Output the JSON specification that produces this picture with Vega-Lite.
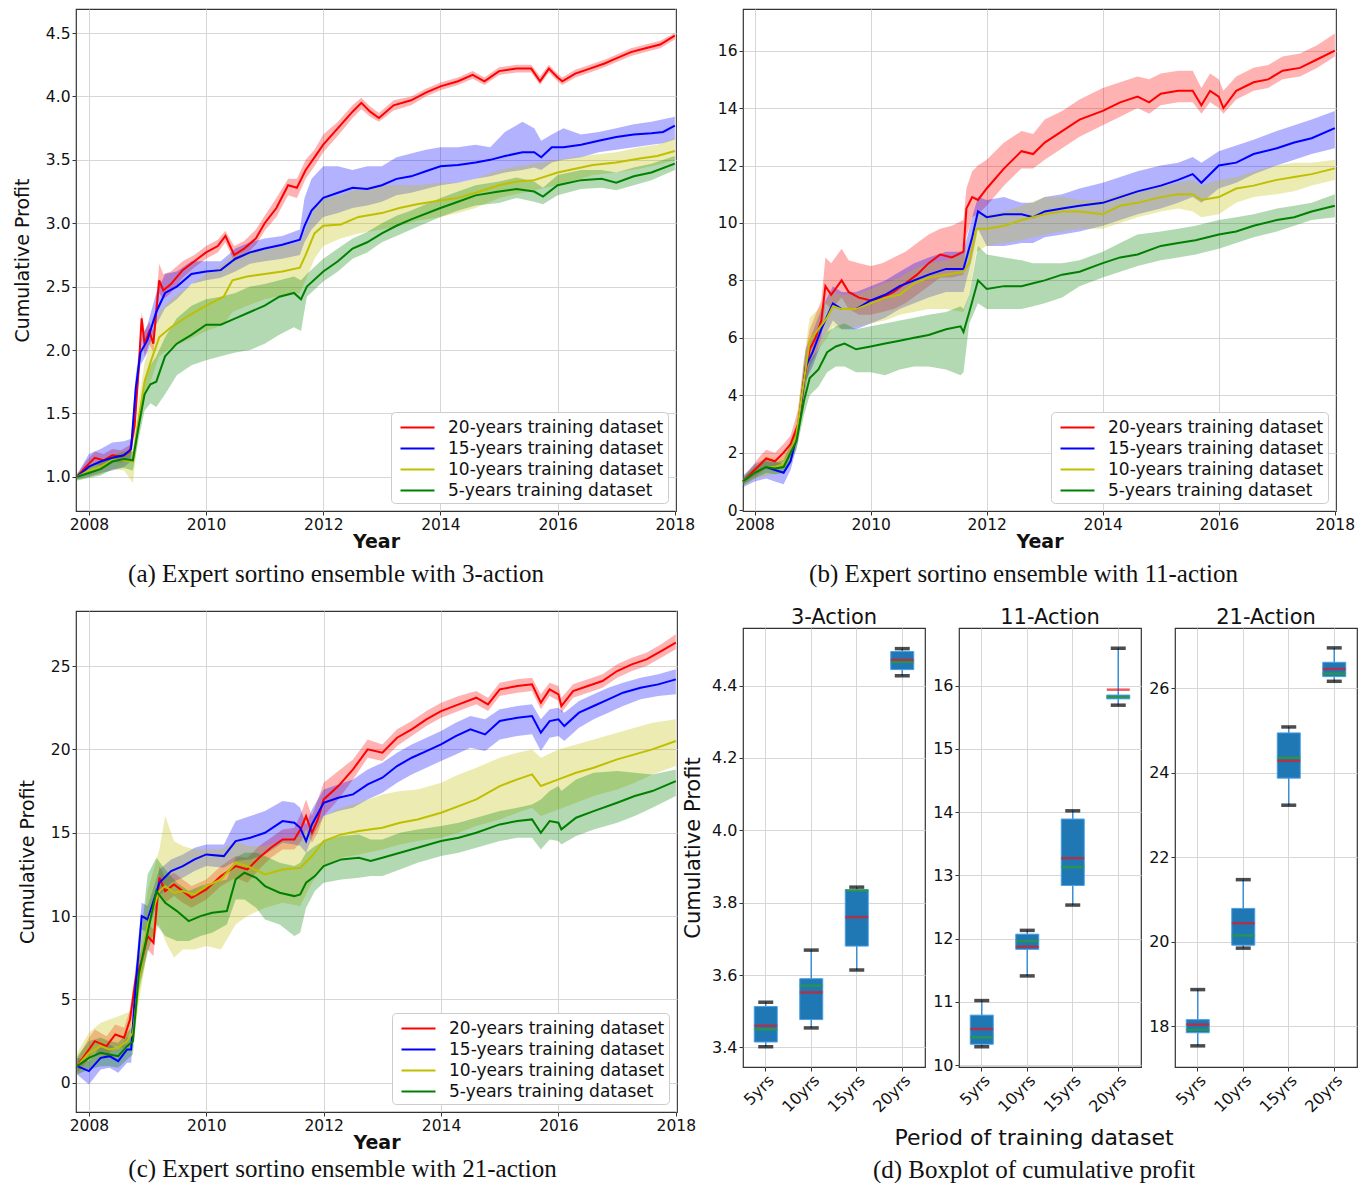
{
"$schema": "https://vega.github.io/schema/vega-lite/v6.json",
"padding": {"left": 12, "top": 8, "right": 4, "bottom": 0},
"background": "white",
"config": {
 "font": "DejaVu Sans",
 "view": {"stroke": "#333333", "strokeWidth": 1.2},
 "axis": {"grid": true, "gridColor": "#d6d6d6", "gridWidth": 1, "domain": false, "ticks": true, "tickColor": "#333333", "tickSize": 4, "labelPadding": 2, "labelFont": "DejaVu Sans", "labelFontSize": 15.5, "labelColor": "#111111", "titleFont": "DejaVu Sans", "titleFontSize": 19, "titleFontWeight": "normal", "titleColor": "#111111"},
 "legend": {"orient": "bottom-right", "offset": 8, "labelFont": "DejaVu Sans", "labelFontSize": 17, "labelLimit": 400, "labelColor": "#111111", "symbolType": "M-1.7,0H1.7", "symbolSize": 400, "symbolStrokeWidth": 2.2, "symbolOffset": 11, "labelOffset": 19, "rowPadding": 1, "padding": 4, "fillColor": "white", "strokeColor": "#cccccc", "cornerRadius": 4},
 "title": {"font": "Liberation Serif", "fontSize": 25, "fontWeight": "normal", "color": "#111111"}
},
"datasets": {
"L": [
{"p":"a","s":"20","t":2007.8,"y":1.0,"lo":0.98,"hi":1.02},{"p":"a","s":"20","t":2007.95,"y":1.08,"lo":1.04,"hi":1.12},{"p":"a","s":"20","t":2008.1,"y":1.15,"lo":1.1,"hi":1.2},{"p":"a","s":"20","t":2008.25,"y":1.13,"lo":1.08,"hi":1.18},{"p":"a","s":"20","t":2008.4,"y":1.17,"lo":1.12,"hi":1.22},{"p":"a","s":"20","t":2008.55,"y":1.16,"lo":1.11,"hi":1.21},{"p":"a","s":"20","t":2008.7,"y":1.2,"lo":1.15,"hi":1.25},{"p":"a","s":"20","t":2008.78,"y":1.4,"lo":1.33,"hi":1.47},{"p":"a","s":"20","t":2008.85,"y":1.85,"lo":1.75,"hi":1.95},{"p":"a","s":"20","t":2008.9,"y":2.25,"lo":2.15,"hi":2.3},{"p":"a","s":"20","t":2008.95,"y":2.05,"lo":1.95,"hi":2.15},{"p":"a","s":"20","t":2009.03,"y":2.15,"lo":2.05,"hi":2.22},{"p":"a","s":"20","t":2009.1,"y":2.05,"lo":1.98,"hi":2.15},{"p":"a","s":"20","t":2009.2,"y":2.55,"lo":2.45,"hi":2.68},{"p":"a","s":"20","t":2009.27,"y":2.47,"lo":2.4,"hi":2.6},{"p":"a","s":"20","t":2009.4,"y":2.52,"lo":2.45,"hi":2.62},{"p":"a","s":"20","t":2009.6,"y":2.63,"lo":2.57,"hi":2.7},{"p":"a","s":"20","t":2009.8,"y":2.7,"lo":2.65,"hi":2.75},{"p":"a","s":"20","t":2010.0,"y":2.77,"lo":2.72,"hi":2.82},{"p":"a","s":"20","t":2010.2,"y":2.82,"lo":2.77,"hi":2.87},{"p":"a","s":"20","t":2010.33,"y":2.9,"lo":2.85,"hi":2.94},{"p":"a","s":"20","t":2010.48,"y":2.75,"lo":2.7,"hi":2.82},{"p":"a","s":"20","t":2010.65,"y":2.8,"lo":2.74,"hi":2.86},{"p":"a","s":"20","t":2010.85,"y":2.88,"lo":2.83,"hi":2.95},{"p":"a","s":"20","t":2011.0,"y":3.0,"lo":2.94,"hi":3.06},{"p":"a","s":"20","t":2011.2,"y":3.12,"lo":3.05,"hi":3.2},{"p":"a","s":"20","t":2011.4,"y":3.3,"lo":3.22,"hi":3.35},{"p":"a","s":"20","t":2011.55,"y":3.28,"lo":3.2,"hi":3.35},{"p":"a","s":"20","t":2011.7,"y":3.42,"lo":3.35,"hi":3.5},{"p":"a","s":"20","t":2011.85,"y":3.52,"lo":3.45,"hi":3.58},{"p":"a","s":"20","t":2012.0,"y":3.62,"lo":3.56,"hi":3.7},{"p":"a","s":"20","t":2012.25,"y":3.75,"lo":3.69,"hi":3.8},{"p":"a","s":"20","t":2012.5,"y":3.88,"lo":3.83,"hi":3.93},{"p":"a","s":"20","t":2012.65,"y":3.95,"lo":3.9,"hi":3.99},{"p":"a","s":"20","t":2012.8,"y":3.88,"lo":3.84,"hi":3.92},{"p":"a","s":"20","t":2012.95,"y":3.83,"lo":3.8,"hi":3.87},{"p":"a","s":"20","t":2013.2,"y":3.93,"lo":3.89,"hi":3.97},{"p":"a","s":"20","t":2013.5,"y":3.97,"lo":3.93,"hi":4.0},{"p":"a","s":"20","t":2013.75,"y":4.03,"lo":4.0,"hi":4.06},{"p":"a","s":"20","t":2014.0,"y":4.08,"lo":4.05,"hi":4.11},{"p":"a","s":"20","t":2014.3,"y":4.12,"lo":4.09,"hi":4.15},{"p":"a","s":"20","t":2014.55,"y":4.17,"lo":4.14,"hi":4.2},{"p":"a","s":"20","t":2014.75,"y":4.12,"lo":4.09,"hi":4.15},{"p":"a","s":"20","t":2015.0,"y":4.2,"lo":4.17,"hi":4.23},{"p":"a","s":"20","t":2015.3,"y":4.22,"lo":4.19,"hi":4.25},{"p":"a","s":"20","t":2015.55,"y":4.22,"lo":4.19,"hi":4.25},{"p":"a","s":"20","t":2015.7,"y":4.12,"lo":4.09,"hi":4.16},{"p":"a","s":"20","t":2015.85,"y":4.22,"lo":4.19,"hi":4.25},{"p":"a","s":"20","t":2016.0,"y":4.15,"lo":4.12,"hi":4.18},{"p":"a","s":"20","t":2016.08,"y":4.12,"lo":4.09,"hi":4.15},{"p":"a","s":"20","t":2016.3,"y":4.18,"lo":4.15,"hi":4.21},{"p":"a","s":"20","t":2016.55,"y":4.22,"lo":4.19,"hi":4.25},{"p":"a","s":"20","t":2016.8,"y":4.26,"lo":4.23,"hi":4.29},{"p":"a","s":"20","t":2017.0,"y":4.3,"lo":4.27,"hi":4.33},{"p":"a","s":"20","t":2017.25,"y":4.35,"lo":4.32,"hi":4.38},{"p":"a","s":"20","t":2017.5,"y":4.38,"lo":4.35,"hi":4.41},{"p":"a","s":"20","t":2017.75,"y":4.41,"lo":4.38,"hi":4.44},{"p":"a","s":"20","t":2018.0,"y":4.48,"lo":4.45,"hi":4.5},
{"p":"a","s":"15","t":2007.8,"y":1.0,"lo":0.98,"hi":1.02},{"p":"a","s":"15","t":2008.0,"y":1.08,"lo":1.0,"hi":1.18},{"p":"a","s":"15","t":2008.2,"y":1.12,"lo":1.03,"hi":1.22},{"p":"a","s":"15","t":2008.4,"y":1.15,"lo":1.05,"hi":1.27},{"p":"a","s":"15","t":2008.6,"y":1.17,"lo":1.08,"hi":1.28},{"p":"a","s":"15","t":2008.72,"y":1.22,"lo":1.12,"hi":1.3},{"p":"a","s":"15","t":2008.8,"y":1.7,"lo":1.6,"hi":1.8},{"p":"a","s":"15","t":2008.88,"y":1.98,"lo":1.88,"hi":2.08},{"p":"a","s":"15","t":2009.0,"y":2.08,"lo":1.98,"hi":2.2},{"p":"a","s":"15","t":2009.15,"y":2.3,"lo":2.2,"hi":2.45},{"p":"a","s":"15","t":2009.3,"y":2.45,"lo":2.33,"hi":2.6},{"p":"a","s":"15","t":2009.5,"y":2.5,"lo":2.4,"hi":2.62},{"p":"a","s":"15","t":2009.75,"y":2.6,"lo":2.52,"hi":2.7},{"p":"a","s":"15","t":2010.0,"y":2.62,"lo":2.55,"hi":2.7},{"p":"a","s":"15","t":2010.25,"y":2.63,"lo":2.57,"hi":2.7},{"p":"a","s":"15","t":2010.5,"y":2.72,"lo":2.62,"hi":2.8},{"p":"a","s":"15","t":2010.75,"y":2.77,"lo":2.68,"hi":2.85},{"p":"a","s":"15","t":2011.0,"y":2.8,"lo":2.7,"hi":2.88},{"p":"a","s":"15","t":2011.3,"y":2.83,"lo":2.72,"hi":2.9},{"p":"a","s":"15","t":2011.6,"y":2.87,"lo":2.75,"hi":2.95},{"p":"a","s":"15","t":2011.68,"y":2.98,"lo":2.85,"hi":3.2},{"p":"a","s":"15","t":2011.8,"y":3.1,"lo":2.95,"hi":3.35},{"p":"a","s":"15","t":2012.0,"y":3.2,"lo":3.05,"hi":3.45},{"p":"a","s":"15","t":2012.25,"y":3.24,"lo":3.08,"hi":3.45},{"p":"a","s":"15","t":2012.5,"y":3.28,"lo":3.12,"hi":3.42},{"p":"a","s":"15","t":2012.75,"y":3.27,"lo":3.14,"hi":3.45},{"p":"a","s":"15","t":2013.0,"y":3.3,"lo":3.17,"hi":3.45},{"p":"a","s":"15","t":2013.25,"y":3.35,"lo":3.22,"hi":3.52},{"p":"a","s":"15","t":2013.5,"y":3.37,"lo":3.24,"hi":3.55},{"p":"a","s":"15","t":2013.75,"y":3.41,"lo":3.27,"hi":3.58},{"p":"a","s":"15","t":2014.0,"y":3.45,"lo":3.3,"hi":3.6},{"p":"a","s":"15","t":2014.3,"y":3.46,"lo":3.32,"hi":3.6},{"p":"a","s":"15","t":2014.6,"y":3.48,"lo":3.35,"hi":3.62},{"p":"a","s":"15","t":2014.85,"y":3.5,"lo":3.37,"hi":3.6},{"p":"a","s":"15","t":2015.1,"y":3.53,"lo":3.4,"hi":3.72},{"p":"a","s":"15","t":2015.4,"y":3.56,"lo":3.42,"hi":3.8},{"p":"a","s":"15","t":2015.6,"y":3.56,"lo":3.44,"hi":3.75},{"p":"a","s":"15","t":2015.72,"y":3.52,"lo":3.42,"hi":3.65},{"p":"a","s":"15","t":2015.9,"y":3.6,"lo":3.48,"hi":3.7},{"p":"a","s":"15","t":2016.1,"y":3.6,"lo":3.5,"hi":3.75},{"p":"a","s":"15","t":2016.4,"y":3.62,"lo":3.52,"hi":3.7},{"p":"a","s":"15","t":2016.7,"y":3.65,"lo":3.56,"hi":3.72},{"p":"a","s":"15","t":2017.0,"y":3.68,"lo":3.58,"hi":3.75},{"p":"a","s":"15","t":2017.3,"y":3.7,"lo":3.6,"hi":3.78},{"p":"a","s":"15","t":2017.6,"y":3.71,"lo":3.62,"hi":3.8},{"p":"a","s":"15","t":2017.8,"y":3.72,"lo":3.63,"hi":3.82},{"p":"a","s":"15","t":2018.0,"y":3.77,"lo":3.66,"hi":3.84},
{"p":"a","s":"10","t":2007.8,"y":1.0,"lo":0.97,"hi":1.03},{"p":"a","s":"10","t":2008.0,"y":1.05,"lo":1.0,"hi":1.1},{"p":"a","s":"10","t":2008.2,"y":1.08,"lo":1.02,"hi":1.14},{"p":"a","s":"10","t":2008.4,"y":1.13,"lo":1.06,"hi":1.18},{"p":"a","s":"10","t":2008.6,"y":1.13,"lo":1.05,"hi":1.2},{"p":"a","s":"10","t":2008.75,"y":1.12,"lo":0.95,"hi":1.22},{"p":"a","s":"10","t":2008.85,"y":1.45,"lo":1.35,"hi":1.6},{"p":"a","s":"10","t":2008.95,"y":1.75,"lo":1.62,"hi":1.9},{"p":"a","s":"10","t":2009.05,"y":1.9,"lo":1.75,"hi":2.05},{"p":"a","s":"10","t":2009.2,"y":2.1,"lo":1.95,"hi":2.3},{"p":"a","s":"10","t":2009.4,"y":2.18,"lo":2.02,"hi":2.4},{"p":"a","s":"10","t":2009.7,"y":2.27,"lo":2.08,"hi":2.5},{"p":"a","s":"10","t":2010.0,"y":2.35,"lo":2.15,"hi":2.6},{"p":"a","s":"10","t":2010.3,"y":2.42,"lo":2.2,"hi":2.68},{"p":"a","s":"10","t":2010.45,"y":2.55,"lo":2.3,"hi":2.75},{"p":"a","s":"10","t":2010.7,"y":2.58,"lo":2.35,"hi":2.78},{"p":"a","s":"10","t":2011.0,"y":2.6,"lo":2.4,"hi":2.8},{"p":"a","s":"10","t":2011.3,"y":2.62,"lo":2.43,"hi":2.82},{"p":"a","s":"10","t":2011.6,"y":2.65,"lo":2.45,"hi":2.85},{"p":"a","s":"10","t":2011.7,"y":2.75,"lo":2.55,"hi":2.95},{"p":"a","s":"10","t":2011.85,"y":2.92,"lo":2.72,"hi":3.12},{"p":"a","s":"10","t":2012.0,"y":2.98,"lo":2.82,"hi":3.2},{"p":"a","s":"10","t":2012.3,"y":2.99,"lo":2.88,"hi":3.22},{"p":"a","s":"10","t":2012.6,"y":3.05,"lo":2.92,"hi":3.28},{"p":"a","s":"10","t":2013.0,"y":3.08,"lo":2.95,"hi":3.3},{"p":"a","s":"10","t":2013.3,"y":3.12,"lo":2.98,"hi":3.3},{"p":"a","s":"10","t":2013.6,"y":3.15,"lo":3.02,"hi":3.3},{"p":"a","s":"10","t":2014.0,"y":3.18,"lo":3.05,"hi":3.32},{"p":"a","s":"10","t":2014.3,"y":3.2,"lo":3.08,"hi":3.32},{"p":"a","s":"10","t":2014.6,"y":3.24,"lo":3.12,"hi":3.35},{"p":"a","s":"10","t":2015.0,"y":3.3,"lo":3.2,"hi":3.42},{"p":"a","s":"10","t":2015.3,"y":3.33,"lo":3.23,"hi":3.45},{"p":"a","s":"10","t":2015.6,"y":3.34,"lo":3.26,"hi":3.47},{"p":"a","s":"10","t":2016.0,"y":3.4,"lo":3.3,"hi":3.5},{"p":"a","s":"10","t":2016.3,"y":3.43,"lo":3.34,"hi":3.52},{"p":"a","s":"10","t":2016.6,"y":3.46,"lo":3.38,"hi":3.54},{"p":"a","s":"10","t":2017.0,"y":3.48,"lo":3.4,"hi":3.56},{"p":"a","s":"10","t":2017.4,"y":3.51,"lo":3.43,"hi":3.6},{"p":"a","s":"10","t":2017.7,"y":3.53,"lo":3.46,"hi":3.62},{"p":"a","s":"10","t":2018.0,"y":3.57,"lo":3.5,"hi":3.67},
{"p":"a","s":"5","t":2007.8,"y":1.0,"lo":0.97,"hi":1.03},{"p":"a","s":"5","t":2008.0,"y":1.03,"lo":0.99,"hi":1.07},{"p":"a","s":"5","t":2008.2,"y":1.06,"lo":1.01,"hi":1.12},{"p":"a","s":"5","t":2008.4,"y":1.12,"lo":1.06,"hi":1.17},{"p":"a","s":"5","t":2008.6,"y":1.14,"lo":1.07,"hi":1.2},{"p":"a","s":"5","t":2008.75,"y":1.13,"lo":1.05,"hi":1.2},{"p":"a","s":"5","t":2008.85,"y":1.4,"lo":1.3,"hi":1.5},{"p":"a","s":"5","t":2008.95,"y":1.65,"lo":1.52,"hi":1.78},{"p":"a","s":"5","t":2009.05,"y":1.73,"lo":1.58,"hi":1.88},{"p":"a","s":"5","t":2009.15,"y":1.75,"lo":1.55,"hi":1.95},{"p":"a","s":"5","t":2009.3,"y":1.95,"lo":1.65,"hi":2.1},{"p":"a","s":"5","t":2009.5,"y":2.05,"lo":1.8,"hi":2.25},{"p":"a","s":"5","t":2009.75,"y":2.12,"lo":1.88,"hi":2.35},{"p":"a","s":"5","t":2010.0,"y":2.2,"lo":1.92,"hi":2.4},{"p":"a","s":"5","t":2010.25,"y":2.2,"lo":1.95,"hi":2.42},{"p":"a","s":"5","t":2010.5,"y":2.25,"lo":1.98,"hi":2.45},{"p":"a","s":"5","t":2010.75,"y":2.3,"lo":2.0,"hi":2.5},{"p":"a","s":"5","t":2011.0,"y":2.35,"lo":2.05,"hi":2.52},{"p":"a","s":"5","t":2011.25,"y":2.42,"lo":2.12,"hi":2.55},{"p":"a","s":"5","t":2011.5,"y":2.45,"lo":2.18,"hi":2.58},{"p":"a","s":"5","t":2011.62,"y":2.4,"lo":2.15,"hi":2.55},{"p":"a","s":"5","t":2011.72,"y":2.5,"lo":2.42,"hi":2.6},{"p":"a","s":"5","t":2012.0,"y":2.62,"lo":2.54,"hi":2.72},{"p":"a","s":"5","t":2012.25,"y":2.7,"lo":2.62,"hi":2.8},{"p":"a","s":"5","t":2012.5,"y":2.8,"lo":2.72,"hi":2.88},{"p":"a","s":"5","t":2012.75,"y":2.85,"lo":2.77,"hi":2.93},{"p":"a","s":"5","t":2013.0,"y":2.92,"lo":2.85,"hi":3.0},{"p":"a","s":"5","t":2013.25,"y":2.98,"lo":2.9,"hi":3.06},{"p":"a","s":"5","t":2013.5,"y":3.03,"lo":2.95,"hi":3.1},{"p":"a","s":"5","t":2014.0,"y":3.12,"lo":3.05,"hi":3.2},{"p":"a","s":"5","t":2014.3,"y":3.17,"lo":3.1,"hi":3.25},{"p":"a","s":"5","t":2014.6,"y":3.22,"lo":3.14,"hi":3.3},{"p":"a","s":"5","t":2015.0,"y":3.25,"lo":3.16,"hi":3.33},{"p":"a","s":"5","t":2015.3,"y":3.27,"lo":3.2,"hi":3.36},{"p":"a","s":"5","t":2015.6,"y":3.25,"lo":3.17,"hi":3.33},{"p":"a","s":"5","t":2015.75,"y":3.21,"lo":3.15,"hi":3.28},{"p":"a","s":"5","t":2016.0,"y":3.3,"lo":3.22,"hi":3.38},{"p":"a","s":"5","t":2016.4,"y":3.34,"lo":3.27,"hi":3.42},{"p":"a","s":"5","t":2016.75,"y":3.35,"lo":3.28,"hi":3.42},{"p":"a","s":"5","t":2017.0,"y":3.32,"lo":3.26,"hi":3.4},{"p":"a","s":"5","t":2017.3,"y":3.37,"lo":3.3,"hi":3.44},{"p":"a","s":"5","t":2017.6,"y":3.4,"lo":3.34,"hi":3.47},{"p":"a","s":"5","t":2018.0,"y":3.47,"lo":3.42,"hi":3.53},
{"p":"b","s":"20","t":2007.8,"y":1.0,"lo":0.9,"hi":1.1},{"p":"b","s":"20","t":2007.95,"y":1.3,"lo":1.1,"hi":1.5},{"p":"b","s":"20","t":2008.1,"y":1.6,"lo":1.3,"hi":1.9},{"p":"b","s":"20","t":2008.2,"y":1.8,"lo":1.5,"hi":2.1},{"p":"b","s":"20","t":2008.35,"y":1.7,"lo":1.45,"hi":2.0},{"p":"b","s":"20","t":2008.5,"y":2.0,"lo":1.7,"hi":2.3},{"p":"b","s":"20","t":2008.62,"y":2.3,"lo":2.0,"hi":2.6},{"p":"b","s":"20","t":2008.75,"y":3.0,"lo":2.6,"hi":3.5},{"p":"b","s":"20","t":2008.85,"y":4.5,"lo":4.0,"hi":5.2},{"p":"b","s":"20","t":2008.95,"y":5.6,"lo":5.0,"hi":6.3},{"p":"b","s":"20","t":2009.05,"y":6.0,"lo":5.4,"hi":6.8},{"p":"b","s":"20","t":2009.15,"y":6.6,"lo":6.0,"hi":7.3},{"p":"b","s":"20","t":2009.22,"y":7.8,"lo":7.2,"hi":8.8},{"p":"b","s":"20","t":2009.32,"y":7.5,"lo":7.0,"hi":8.6},{"p":"b","s":"20","t":2009.5,"y":8.0,"lo":7.4,"hi":9.1},{"p":"b","s":"20","t":2009.62,"y":7.6,"lo":7.0,"hi":8.7},{"p":"b","s":"20","t":2009.8,"y":7.4,"lo":6.8,"hi":8.6},{"p":"b","s":"20","t":2010.0,"y":7.3,"lo":6.8,"hi":8.5},{"p":"b","s":"20","t":2010.2,"y":7.4,"lo":6.9,"hi":8.6},{"p":"b","s":"20","t":2010.4,"y":7.6,"lo":7.0,"hi":8.8},{"p":"b","s":"20","t":2010.6,"y":7.9,"lo":7.2,"hi":9.0},{"p":"b","s":"20","t":2010.8,"y":8.2,"lo":7.5,"hi":9.3},{"p":"b","s":"20","t":2011.0,"y":8.6,"lo":7.8,"hi":9.6},{"p":"b","s":"20","t":2011.2,"y":8.9,"lo":8.1,"hi":9.8},{"p":"b","s":"20","t":2011.4,"y":8.8,"lo":8.1,"hi":9.9},{"p":"b","s":"20","t":2011.6,"y":9.0,"lo":8.2,"hi":10.1},{"p":"b","s":"20","t":2011.65,"y":10.5,"lo":9.5,"hi":11.2},{"p":"b","s":"20","t":2011.75,"y":10.9,"lo":10.2,"hi":11.8},{"p":"b","s":"20","t":2011.85,"y":10.8,"lo":10.3,"hi":12.0},{"p":"b","s":"20","t":2012.0,"y":11.2,"lo":10.6,"hi":12.2},{"p":"b","s":"20","t":2012.3,"y":11.9,"lo":11.3,"hi":12.8},{"p":"b","s":"20","t":2012.6,"y":12.5,"lo":11.9,"hi":13.2},{"p":"b","s":"20","t":2012.8,"y":12.4,"lo":11.9,"hi":13.1},{"p":"b","s":"20","t":2013.0,"y":12.8,"lo":12.2,"hi":13.6},{"p":"b","s":"20","t":2013.3,"y":13.2,"lo":12.6,"hi":13.9},{"p":"b","s":"20","t":2013.6,"y":13.6,"lo":13.0,"hi":14.3},{"p":"b","s":"20","t":2014.0,"y":13.9,"lo":13.4,"hi":14.7},{"p":"b","s":"20","t":2014.3,"y":14.2,"lo":13.7,"hi":14.9},{"p":"b","s":"20","t":2014.6,"y":14.4,"lo":14.0,"hi":15.1},{"p":"b","s":"20","t":2014.8,"y":14.2,"lo":13.8,"hi":15.0},{"p":"b","s":"20","t":2015.0,"y":14.5,"lo":14.1,"hi":15.2},{"p":"b","s":"20","t":2015.3,"y":14.6,"lo":14.2,"hi":15.3},{"p":"b","s":"20","t":2015.55,"y":14.6,"lo":14.2,"hi":15.3},{"p":"b","s":"20","t":2015.7,"y":14.1,"lo":13.8,"hi":14.7},{"p":"b","s":"20","t":2015.85,"y":14.6,"lo":14.2,"hi":15.2},{"p":"b","s":"20","t":2016.0,"y":14.4,"lo":14.0,"hi":15.0},{"p":"b","s":"20","t":2016.08,"y":14.0,"lo":13.8,"hi":14.6},{"p":"b","s":"20","t":2016.3,"y":14.6,"lo":14.3,"hi":15.1},{"p":"b","s":"20","t":2016.6,"y":14.9,"lo":14.6,"hi":15.4},{"p":"b","s":"20","t":2016.85,"y":15.0,"lo":14.7,"hi":15.5},{"p":"b","s":"20","t":2017.1,"y":15.3,"lo":15.0,"hi":15.8},{"p":"b","s":"20","t":2017.4,"y":15.4,"lo":15.1,"hi":15.9},{"p":"b","s":"20","t":2017.7,"y":15.7,"lo":15.4,"hi":16.2},{"p":"b","s":"20","t":2018.0,"y":16.0,"lo":15.8,"hi":16.6},
{"p":"b","s":"15","t":2007.8,"y":1.0,"lo":0.8,"hi":1.2},{"p":"b","s":"15","t":2008.0,"y":1.3,"lo":1.0,"hi":1.6},{"p":"b","s":"15","t":2008.2,"y":1.5,"lo":1.1,"hi":1.8},{"p":"b","s":"15","t":2008.35,"y":1.4,"lo":1.0,"hi":1.7},{"p":"b","s":"15","t":2008.5,"y":1.3,"lo":0.9,"hi":1.6},{"p":"b","s":"15","t":2008.62,"y":1.7,"lo":1.4,"hi":2.0},{"p":"b","s":"15","t":2008.75,"y":2.8,"lo":2.4,"hi":3.2},{"p":"b","s":"15","t":2008.88,"y":5.0,"lo":4.5,"hi":5.6},{"p":"b","s":"15","t":2009.0,"y":5.5,"lo":5.0,"hi":6.2},{"p":"b","s":"15","t":2009.15,"y":6.3,"lo":5.8,"hi":7.0},{"p":"b","s":"15","t":2009.35,"y":7.2,"lo":6.6,"hi":7.8},{"p":"b","s":"15","t":2009.5,"y":7.0,"lo":6.3,"hi":7.6},{"p":"b","s":"15","t":2009.75,"y":7.0,"lo":6.3,"hi":7.6},{"p":"b","s":"15","t":2010.0,"y":7.3,"lo":6.5,"hi":7.8},{"p":"b","s":"15","t":2010.25,"y":7.5,"lo":6.7,"hi":8.0},{"p":"b","s":"15","t":2010.5,"y":7.8,"lo":7.0,"hi":8.3},{"p":"b","s":"15","t":2010.75,"y":8.0,"lo":7.2,"hi":8.6},{"p":"b","s":"15","t":2011.0,"y":8.2,"lo":7.4,"hi":8.8},{"p":"b","s":"15","t":2011.3,"y":8.4,"lo":7.6,"hi":9.0},{"p":"b","s":"15","t":2011.6,"y":8.4,"lo":7.6,"hi":9.0},{"p":"b","s":"15","t":2011.75,"y":9.5,"lo":8.8,"hi":10.2},{"p":"b","s":"15","t":2011.85,"y":10.4,"lo":9.8,"hi":10.9},{"p":"b","s":"15","t":2012.0,"y":10.2,"lo":9.2,"hi":10.8},{"p":"b","s":"15","t":2012.3,"y":10.3,"lo":9.2,"hi":10.9},{"p":"b","s":"15","t":2012.6,"y":10.3,"lo":9.3,"hi":10.7},{"p":"b","s":"15","t":2012.8,"y":10.2,"lo":9.3,"hi":10.7},{"p":"b","s":"15","t":2013.0,"y":10.4,"lo":9.5,"hi":10.9},{"p":"b","s":"15","t":2013.3,"y":10.5,"lo":9.6,"hi":11.0},{"p":"b","s":"15","t":2013.6,"y":10.6,"lo":9.7,"hi":11.2},{"p":"b","s":"15","t":2014.0,"y":10.7,"lo":9.9,"hi":11.4},{"p":"b","s":"15","t":2014.3,"y":10.9,"lo":10.1,"hi":11.6},{"p":"b","s":"15","t":2014.6,"y":11.1,"lo":10.3,"hi":11.8},{"p":"b","s":"15","t":2015.0,"y":11.3,"lo":10.5,"hi":12.0},{"p":"b","s":"15","t":2015.3,"y":11.5,"lo":10.7,"hi":12.1},{"p":"b","s":"15","t":2015.55,"y":11.7,"lo":10.9,"hi":12.3},{"p":"b","s":"15","t":2015.7,"y":11.4,"lo":10.7,"hi":12.1},{"p":"b","s":"15","t":2016.0,"y":12.0,"lo":11.2,"hi":12.5},{"p":"b","s":"15","t":2016.3,"y":12.1,"lo":11.4,"hi":12.7},{"p":"b","s":"15","t":2016.6,"y":12.4,"lo":11.7,"hi":12.9},{"p":"b","s":"15","t":2017.0,"y":12.6,"lo":12.0,"hi":13.2},{"p":"b","s":"15","t":2017.3,"y":12.8,"lo":12.2,"hi":13.4},{"p":"b","s":"15","t":2017.6,"y":12.95,"lo":12.4,"hi":13.6},{"p":"b","s":"15","t":2018.0,"y":13.3,"lo":12.6,"hi":13.9},
{"p":"b","s":"10","t":2007.8,"y":1.0,"lo":0.85,"hi":1.15},{"p":"b","s":"10","t":2008.0,"y":1.3,"lo":1.1,"hi":1.55},{"p":"b","s":"10","t":2008.2,"y":1.5,"lo":1.2,"hi":1.9},{"p":"b","s":"10","t":2008.35,"y":1.5,"lo":1.25,"hi":1.8},{"p":"b","s":"10","t":2008.5,"y":1.6,"lo":1.3,"hi":1.9},{"p":"b","s":"10","t":2008.62,"y":2.0,"lo":1.7,"hi":2.4},{"p":"b","s":"10","t":2008.72,"y":2.6,"lo":2.2,"hi":3.0},{"p":"b","s":"10","t":2008.85,"y":4.5,"lo":3.9,"hi":5.3},{"p":"b","s":"10","t":2008.95,"y":5.9,"lo":5.2,"hi":6.7},{"p":"b","s":"10","t":2009.1,"y":6.3,"lo":5.6,"hi":7.0},{"p":"b","s":"10","t":2009.25,"y":6.7,"lo":6.0,"hi":7.3},{"p":"b","s":"10","t":2009.35,"y":7.1,"lo":6.4,"hi":7.6},{"p":"b","s":"10","t":2009.5,"y":7.0,"lo":6.3,"hi":7.5},{"p":"b","s":"10","t":2009.75,"y":7.0,"lo":6.4,"hi":7.5},{"p":"b","s":"10","t":2010.0,"y":7.2,"lo":6.5,"hi":7.7},{"p":"b","s":"10","t":2010.25,"y":7.4,"lo":6.6,"hi":7.9},{"p":"b","s":"10","t":2010.5,"y":7.5,"lo":6.8,"hi":8.1},{"p":"b","s":"10","t":2010.75,"y":7.9,"lo":6.9,"hi":8.4},{"p":"b","s":"10","t":2011.0,"y":8.1,"lo":7.0,"hi":8.6},{"p":"b","s":"10","t":2011.3,"y":8.2,"lo":7.0,"hi":8.7},{"p":"b","s":"10","t":2011.6,"y":8.3,"lo":6.9,"hi":8.9},{"p":"b","s":"10","t":2011.7,"y":8.6,"lo":7.5,"hi":9.2},{"p":"b","s":"10","t":2011.82,"y":9.8,"lo":9.0,"hi":10.3},{"p":"b","s":"10","t":2012.0,"y":9.8,"lo":9.2,"hi":10.3},{"p":"b","s":"10","t":2012.3,"y":9.9,"lo":9.3,"hi":10.4},{"p":"b","s":"10","t":2012.6,"y":10.1,"lo":9.4,"hi":10.6},{"p":"b","s":"10","t":2013.0,"y":10.3,"lo":9.6,"hi":10.9},{"p":"b","s":"10","t":2013.3,"y":10.4,"lo":9.7,"hi":10.9},{"p":"b","s":"10","t":2013.6,"y":10.4,"lo":9.8,"hi":10.8},{"p":"b","s":"10","t":2014.0,"y":10.3,"lo":9.8,"hi":10.8},{"p":"b","s":"10","t":2014.3,"y":10.6,"lo":10.0,"hi":11.0},{"p":"b","s":"10","t":2014.6,"y":10.7,"lo":10.2,"hi":11.1},{"p":"b","s":"10","t":2015.0,"y":10.9,"lo":10.4,"hi":11.3},{"p":"b","s":"10","t":2015.3,"y":11.0,"lo":10.5,"hi":11.4},{"p":"b","s":"10","t":2015.55,"y":11.0,"lo":10.4,"hi":11.5},{"p":"b","s":"10","t":2015.7,"y":10.8,"lo":10.2,"hi":11.3},{"p":"b","s":"10","t":2016.0,"y":10.9,"lo":10.3,"hi":11.5},{"p":"b","s":"10","t":2016.3,"y":11.2,"lo":10.7,"hi":11.6},{"p":"b","s":"10","t":2016.6,"y":11.3,"lo":10.9,"hi":11.8},{"p":"b","s":"10","t":2017.0,"y":11.5,"lo":11.0,"hi":12.0},{"p":"b","s":"10","t":2017.3,"y":11.6,"lo":11.1,"hi":12.1},{"p":"b","s":"10","t":2017.6,"y":11.7,"lo":11.3,"hi":12.1},{"p":"b","s":"10","t":2018.0,"y":11.9,"lo":11.5,"hi":12.2},
{"p":"b","s":"5","t":2007.8,"y":1.0,"lo":0.85,"hi":1.15},{"p":"b","s":"5","t":2008.0,"y":1.3,"lo":1.1,"hi":1.5},{"p":"b","s":"5","t":2008.2,"y":1.5,"lo":1.3,"hi":1.7},{"p":"b","s":"5","t":2008.35,"y":1.45,"lo":1.25,"hi":1.65},{"p":"b","s":"5","t":2008.5,"y":1.5,"lo":1.3,"hi":1.75},{"p":"b","s":"5","t":2008.62,"y":2.0,"lo":1.7,"hi":2.3},{"p":"b","s":"5","t":2008.72,"y":2.4,"lo":2.1,"hi":2.8},{"p":"b","s":"5","t":2008.85,"y":3.8,"lo":3.3,"hi":4.4},{"p":"b","s":"5","t":2008.95,"y":4.6,"lo":4.0,"hi":5.2},{"p":"b","s":"5","t":2009.1,"y":4.9,"lo":4.3,"hi":5.6},{"p":"b","s":"5","t":2009.25,"y":5.5,"lo":4.8,"hi":6.2},{"p":"b","s":"5","t":2009.4,"y":5.7,"lo":5.0,"hi":6.4},{"p":"b","s":"5","t":2009.55,"y":5.8,"lo":5.0,"hi":6.5},{"p":"b","s":"5","t":2009.75,"y":5.6,"lo":4.8,"hi":6.3},{"p":"b","s":"5","t":2010.0,"y":5.7,"lo":4.8,"hi":6.4},{"p":"b","s":"5","t":2010.25,"y":5.8,"lo":4.7,"hi":6.5},{"p":"b","s":"5","t":2010.5,"y":5.9,"lo":4.9,"hi":6.6},{"p":"b","s":"5","t":2010.75,"y":6.0,"lo":5.0,"hi":6.7},{"p":"b","s":"5","t":2011.0,"y":6.1,"lo":5.0,"hi":6.8},{"p":"b","s":"5","t":2011.3,"y":6.3,"lo":4.9,"hi":6.9},{"p":"b","s":"5","t":2011.55,"y":6.4,"lo":4.7,"hi":7.1},{"p":"b","s":"5","t":2011.6,"y":6.2,"lo":4.8,"hi":7.0},{"p":"b","s":"5","t":2011.7,"y":6.9,"lo":6.5,"hi":7.5},{"p":"b","s":"5","t":2011.85,"y":8.0,"lo":7.2,"hi":9.2},{"p":"b","s":"5","t":2012.0,"y":7.7,"lo":7.0,"hi":8.9},{"p":"b","s":"5","t":2012.3,"y":7.8,"lo":7.0,"hi":8.8},{"p":"b","s":"5","t":2012.6,"y":7.8,"lo":7.0,"hi":8.7},{"p":"b","s":"5","t":2012.8,"y":7.9,"lo":7.1,"hi":8.6},{"p":"b","s":"5","t":2013.0,"y":8.0,"lo":7.2,"hi":8.6},{"p":"b","s":"5","t":2013.3,"y":8.2,"lo":7.4,"hi":8.6},{"p":"b","s":"5","t":2013.6,"y":8.3,"lo":7.8,"hi":8.7},{"p":"b","s":"5","t":2014.0,"y":8.6,"lo":8.1,"hi":9.0},{"p":"b","s":"5","t":2014.3,"y":8.8,"lo":8.3,"hi":9.3},{"p":"b","s":"5","t":2014.6,"y":8.9,"lo":8.5,"hi":9.6},{"p":"b","s":"5","t":2015.0,"y":9.2,"lo":8.7,"hi":9.7},{"p":"b","s":"5","t":2015.3,"y":9.3,"lo":8.8,"hi":9.8},{"p":"b","s":"5","t":2015.6,"y":9.4,"lo":8.9,"hi":9.9},{"p":"b","s":"5","t":2016.0,"y":9.6,"lo":9.1,"hi":10.1},{"p":"b","s":"5","t":2016.3,"y":9.7,"lo":9.3,"hi":10.2},{"p":"b","s":"5","t":2016.6,"y":9.9,"lo":9.5,"hi":10.3},{"p":"b","s":"5","t":2017.0,"y":10.1,"lo":9.7,"hi":10.5},{"p":"b","s":"5","t":2017.3,"y":10.2,"lo":9.9,"hi":10.6},{"p":"b","s":"5","t":2017.6,"y":10.4,"lo":10.1,"hi":10.7},{"p":"b","s":"5","t":2018.0,"y":10.6,"lo":10.2,"hi":11.0},
{"p":"c","s":"20","t":2007.8,"y":1.0,"lo":0.6,"hi":1.4},{"p":"c","s":"20","t":2008.0,"y":2.0,"lo":1.4,"hi":2.7},{"p":"c","s":"20","t":2008.1,"y":2.5,"lo":1.8,"hi":3.2},{"p":"c","s":"20","t":2008.3,"y":2.2,"lo":1.6,"hi":2.8},{"p":"c","s":"20","t":2008.45,"y":2.9,"lo":2.2,"hi":3.5},{"p":"c","s":"20","t":2008.6,"y":2.7,"lo":2.1,"hi":3.3},{"p":"c","s":"20","t":2008.7,"y":3.8,"lo":3.0,"hi":4.4},{"p":"c","s":"20","t":2008.8,"y":6.3,"lo":5.5,"hi":7.0},{"p":"c","s":"20","t":2008.9,"y":7.3,"lo":6.5,"hi":8.0},{"p":"c","s":"20","t":2009.0,"y":8.8,"lo":8.0,"hi":9.6},{"p":"c","s":"20","t":2009.1,"y":8.4,"lo":7.6,"hi":9.2},{"p":"c","s":"20","t":2009.2,"y":12.3,"lo":11.5,"hi":13.0},{"p":"c","s":"20","t":2009.3,"y":11.5,"lo":10.8,"hi":12.3},{"p":"c","s":"20","t":2009.45,"y":11.9,"lo":11.2,"hi":12.6},{"p":"c","s":"20","t":2009.6,"y":11.5,"lo":10.8,"hi":12.2},{"p":"c","s":"20","t":2009.75,"y":11.1,"lo":10.5,"hi":11.8},{"p":"c","s":"20","t":2010.0,"y":11.6,"lo":11.0,"hi":12.2},{"p":"c","s":"20","t":2010.25,"y":12.4,"lo":11.8,"hi":13.0},{"p":"c","s":"20","t":2010.5,"y":13.0,"lo":12.3,"hi":13.6},{"p":"c","s":"20","t":2010.7,"y":12.8,"lo":12.0,"hi":13.5},{"p":"c","s":"20","t":2010.9,"y":13.5,"lo":12.8,"hi":14.2},{"p":"c","s":"20","t":2011.1,"y":14.1,"lo":13.5,"hi":14.7},{"p":"c","s":"20","t":2011.3,"y":14.6,"lo":14.0,"hi":15.2},{"p":"c","s":"20","t":2011.5,"y":14.6,"lo":14.0,"hi":15.3},{"p":"c","s":"20","t":2011.62,"y":15.3,"lo":14.5,"hi":16.2},{"p":"c","s":"20","t":2011.7,"y":16.0,"lo":15.2,"hi":17.0},{"p":"c","s":"20","t":2011.8,"y":15.0,"lo":14.4,"hi":16.0},{"p":"c","s":"20","t":2011.9,"y":15.8,"lo":15.0,"hi":17.0},{"p":"c","s":"20","t":2012.0,"y":17.0,"lo":16.0,"hi":18.0},{"p":"c","s":"20","t":2012.25,"y":17.8,"lo":17.0,"hi":18.7},{"p":"c","s":"20","t":2012.5,"y":18.8,"lo":18.2,"hi":19.4},{"p":"c","s":"20","t":2012.75,"y":20.0,"lo":19.5,"hi":20.6},{"p":"c","s":"20","t":2013.0,"y":19.8,"lo":19.3,"hi":20.3},{"p":"c","s":"20","t":2013.25,"y":20.7,"lo":20.2,"hi":21.2},{"p":"c","s":"20","t":2013.5,"y":21.2,"lo":20.8,"hi":21.7},{"p":"c","s":"20","t":2013.75,"y":21.8,"lo":21.4,"hi":22.3},{"p":"c","s":"20","t":2014.0,"y":22.3,"lo":21.9,"hi":22.8},{"p":"c","s":"20","t":2014.3,"y":22.7,"lo":22.3,"hi":23.2},{"p":"c","s":"20","t":2014.6,"y":23.1,"lo":22.7,"hi":23.5},{"p":"c","s":"20","t":2014.8,"y":22.7,"lo":22.3,"hi":23.1},{"p":"c","s":"20","t":2015.0,"y":23.6,"lo":23.2,"hi":24.0},{"p":"c","s":"20","t":2015.3,"y":23.8,"lo":23.4,"hi":24.2},{"p":"c","s":"20","t":2015.55,"y":23.9,"lo":23.5,"hi":24.3},{"p":"c","s":"20","t":2015.7,"y":22.8,"lo":22.4,"hi":23.3},{"p":"c","s":"20","t":2015.85,"y":23.6,"lo":23.2,"hi":24.0},{"p":"c","s":"20","t":2016.0,"y":23.3,"lo":22.9,"hi":23.8},{"p":"c","s":"20","t":2016.05,"y":22.6,"lo":22.2,"hi":23.1},{"p":"c","s":"20","t":2016.25,"y":23.5,"lo":23.1,"hi":23.9},{"p":"c","s":"20","t":2016.5,"y":23.8,"lo":23.4,"hi":24.2},{"p":"c","s":"20","t":2016.75,"y":24.1,"lo":23.7,"hi":24.5},{"p":"c","s":"20","t":2017.0,"y":24.7,"lo":24.3,"hi":25.1},{"p":"c","s":"20","t":2017.25,"y":25.1,"lo":24.7,"hi":25.5},{"p":"c","s":"20","t":2017.5,"y":25.4,"lo":25.0,"hi":25.8},{"p":"c","s":"20","t":2017.75,"y":25.9,"lo":25.5,"hi":26.3},{"p":"c","s":"20","t":2018.0,"y":26.4,"lo":26.0,"hi":26.9},
{"p":"c","s":"15","t":2007.8,"y":1.0,"lo":0.5,"hi":1.5},{"p":"c","s":"15","t":2008.0,"y":0.7,"lo":-0.1,"hi":1.3},{"p":"c","s":"15","t":2008.2,"y":1.5,"lo":0.8,"hi":2.2},{"p":"c","s":"15","t":2008.35,"y":1.6,"lo":0.9,"hi":2.3},{"p":"c","s":"15","t":2008.5,"y":1.3,"lo":0.6,"hi":2.0},{"p":"c","s":"15","t":2008.65,"y":2.0,"lo":1.2,"hi":2.7},{"p":"c","s":"15","t":2008.72,"y":2.0,"lo":1.2,"hi":2.7},{"p":"c","s":"15","t":2008.8,"y":6.0,"lo":5.0,"hi":7.0},{"p":"c","s":"15","t":2008.9,"y":10.0,"lo":9.2,"hi":10.8},{"p":"c","s":"15","t":2009.0,"y":9.8,"lo":9.0,"hi":10.6},{"p":"c","s":"15","t":2009.2,"y":12.0,"lo":11.2,"hi":12.8},{"p":"c","s":"15","t":2009.4,"y":12.7,"lo":12.0,"hi":13.4},{"p":"c","s":"15","t":2009.6,"y":13.0,"lo":12.3,"hi":13.7},{"p":"c","s":"15","t":2009.8,"y":13.4,"lo":12.7,"hi":14.1},{"p":"c","s":"15","t":2010.0,"y":13.7,"lo":13.0,"hi":14.3},{"p":"c","s":"15","t":2010.3,"y":13.6,"lo":12.9,"hi":14.3},{"p":"c","s":"15","t":2010.5,"y":14.5,"lo":13.3,"hi":15.7},{"p":"c","s":"15","t":2010.75,"y":14.7,"lo":13.4,"hi":16.0},{"p":"c","s":"15","t":2011.0,"y":15.0,"lo":13.7,"hi":16.3},{"p":"c","s":"15","t":2011.3,"y":15.7,"lo":14.4,"hi":16.9},{"p":"c","s":"15","t":2011.5,"y":15.6,"lo":14.3,"hi":16.8},{"p":"c","s":"15","t":2011.6,"y":15.3,"lo":14.2,"hi":16.5},{"p":"c","s":"15","t":2011.7,"y":14.5,"lo":13.8,"hi":15.5},{"p":"c","s":"15","t":2011.8,"y":15.5,"lo":14.7,"hi":16.4},{"p":"c","s":"15","t":2012.0,"y":16.8,"lo":16.0,"hi":17.6},{"p":"c","s":"15","t":2012.25,"y":17.1,"lo":16.3,"hi":17.9},{"p":"c","s":"15","t":2012.5,"y":17.3,"lo":16.5,"hi":18.2},{"p":"c","s":"15","t":2012.75,"y":17.9,"lo":17.0,"hi":18.8},{"p":"c","s":"15","t":2013.0,"y":18.3,"lo":17.4,"hi":19.2},{"p":"c","s":"15","t":2013.25,"y":19.0,"lo":18.0,"hi":19.8},{"p":"c","s":"15","t":2013.5,"y":19.5,"lo":18.5,"hi":20.3},{"p":"c","s":"15","t":2013.75,"y":19.9,"lo":18.9,"hi":20.7},{"p":"c","s":"15","t":2014.0,"y":20.3,"lo":19.3,"hi":21.1},{"p":"c","s":"15","t":2014.25,"y":20.8,"lo":19.7,"hi":21.6},{"p":"c","s":"15","t":2014.5,"y":21.2,"lo":20.1,"hi":22.0},{"p":"c","s":"15","t":2014.75,"y":20.9,"lo":19.9,"hi":21.8},{"p":"c","s":"15","t":2015.0,"y":21.7,"lo":20.6,"hi":22.4},{"p":"c","s":"15","t":2015.3,"y":21.9,"lo":20.8,"hi":22.6},{"p":"c","s":"15","t":2015.55,"y":22.0,"lo":20.9,"hi":22.7},{"p":"c","s":"15","t":2015.7,"y":21.0,"lo":19.9,"hi":21.8},{"p":"c","s":"15","t":2015.85,"y":21.7,"lo":20.7,"hi":22.4},{"p":"c","s":"15","t":2016.0,"y":21.8,"lo":20.8,"hi":22.5},{"p":"c","s":"15","t":2016.1,"y":21.4,"lo":20.5,"hi":22.2},{"p":"c","s":"15","t":2016.35,"y":22.2,"lo":21.3,"hi":22.9},{"p":"c","s":"15","t":2016.6,"y":22.6,"lo":21.8,"hi":23.3},{"p":"c","s":"15","t":2016.85,"y":23.0,"lo":22.2,"hi":23.7},{"p":"c","s":"15","t":2017.1,"y":23.4,"lo":22.6,"hi":24.0},{"p":"c","s":"15","t":2017.4,"y":23.7,"lo":23.0,"hi":24.3},{"p":"c","s":"15","t":2017.7,"y":23.9,"lo":23.2,"hi":24.5},{"p":"c","s":"15","t":2018.0,"y":24.2,"lo":23.3,"hi":24.8},
{"p":"c","s":"10","t":2007.8,"y":1.0,"lo":0.5,"hi":1.8},{"p":"c","s":"10","t":2008.0,"y":1.8,"lo":1.0,"hi":3.0},{"p":"c","s":"10","t":2008.2,"y":2.2,"lo":1.4,"hi":3.6},{"p":"c","s":"10","t":2008.35,"y":2.0,"lo":1.5,"hi":3.8},{"p":"c","s":"10","t":2008.5,"y":2.1,"lo":1.6,"hi":4.0},{"p":"c","s":"10","t":2008.65,"y":2.5,"lo":1.8,"hi":4.2},{"p":"c","s":"10","t":2008.75,"y":3.0,"lo":2.2,"hi":4.4},{"p":"c","s":"10","t":2008.85,"y":6.0,"lo":4.8,"hi":7.5},{"p":"c","s":"10","t":2009.0,"y":9.5,"lo":8.0,"hi":11.5},{"p":"c","s":"10","t":2009.2,"y":11.5,"lo":9.5,"hi":14.0},{"p":"c","s":"10","t":2009.3,"y":11.8,"lo":8.5,"hi":16.0},{"p":"c","s":"10","t":2009.45,"y":11.4,"lo":7.5,"hi":14.5},{"p":"c","s":"10","t":2009.6,"y":11.5,"lo":8.0,"hi":14.2},{"p":"c","s":"10","t":2009.8,"y":11.3,"lo":8.0,"hi":14.0},{"p":"c","s":"10","t":2010.0,"y":11.8,"lo":8.2,"hi":14.0},{"p":"c","s":"10","t":2010.25,"y":12.2,"lo":8.0,"hi":14.0},{"p":"c","s":"10","t":2010.5,"y":13.2,"lo":9.5,"hi":14.5},{"p":"c","s":"10","t":2010.7,"y":13.0,"lo":10.0,"hi":14.2},{"p":"c","s":"10","t":2011.0,"y":12.5,"lo":10.5,"hi":14.2},{"p":"c","s":"10","t":2011.3,"y":12.8,"lo":10.8,"hi":14.5},{"p":"c","s":"10","t":2011.6,"y":12.9,"lo":10.6,"hi":14.8},{"p":"c","s":"10","t":2011.8,"y":13.6,"lo":12.0,"hi":15.5},{"p":"c","s":"10","t":2012.0,"y":14.5,"lo":13.0,"hi":16.0},{"p":"c","s":"10","t":2012.3,"y":14.9,"lo":13.5,"hi":16.5},{"p":"c","s":"10","t":2012.6,"y":15.1,"lo":13.7,"hi":16.8},{"p":"c","s":"10","t":2013.0,"y":15.3,"lo":14.0,"hi":17.3},{"p":"c","s":"10","t":2013.3,"y":15.6,"lo":14.3,"hi":17.5},{"p":"c","s":"10","t":2013.6,"y":15.8,"lo":14.5,"hi":17.6},{"p":"c","s":"10","t":2014.0,"y":16.2,"lo":14.7,"hi":18.0},{"p":"c","s":"10","t":2014.3,"y":16.6,"lo":15.0,"hi":18.5},{"p":"c","s":"10","t":2014.6,"y":17.0,"lo":15.4,"hi":18.9},{"p":"c","s":"10","t":2015.0,"y":17.8,"lo":15.8,"hi":19.5},{"p":"c","s":"10","t":2015.3,"y":18.2,"lo":16.2,"hi":19.8},{"p":"c","s":"10","t":2015.55,"y":18.5,"lo":16.5,"hi":20.0},{"p":"c","s":"10","t":2015.7,"y":17.8,"lo":16.0,"hi":19.5},{"p":"c","s":"10","t":2016.0,"y":18.2,"lo":16.4,"hi":20.0},{"p":"c","s":"10","t":2016.3,"y":18.6,"lo":16.8,"hi":20.3},{"p":"c","s":"10","t":2016.6,"y":18.9,"lo":17.2,"hi":20.6},{"p":"c","s":"10","t":2017.0,"y":19.4,"lo":17.6,"hi":21.0},{"p":"c","s":"10","t":2017.3,"y":19.7,"lo":18.0,"hi":21.3},{"p":"c","s":"10","t":2017.6,"y":20.0,"lo":18.5,"hi":21.6},{"p":"c","s":"10","t":2018.0,"y":20.5,"lo":19.0,"hi":21.8},
{"p":"c","s":"5","t":2007.8,"y":1.0,"lo":0.5,"hi":1.6},{"p":"c","s":"5","t":2008.0,"y":1.5,"lo":0.8,"hi":2.5},{"p":"c","s":"5","t":2008.2,"y":1.8,"lo":1.0,"hi":2.7},{"p":"c","s":"5","t":2008.35,"y":1.7,"lo":1.0,"hi":2.5},{"p":"c","s":"5","t":2008.5,"y":1.6,"lo":0.9,"hi":2.4},{"p":"c","s":"5","t":2008.65,"y":2.2,"lo":1.4,"hi":3.0},{"p":"c","s":"5","t":2008.75,"y":2.5,"lo":1.7,"hi":3.4},{"p":"c","s":"5","t":2008.85,"y":6.5,"lo":5.5,"hi":7.5},{"p":"c","s":"5","t":2009.0,"y":9.0,"lo":7.8,"hi":12.5},{"p":"c","s":"5","t":2009.15,"y":11.5,"lo":9.5,"hi":13.5},{"p":"c","s":"5","t":2009.3,"y":10.8,"lo":8.8,"hi":12.8},{"p":"c","s":"5","t":2009.5,"y":10.3,"lo":8.5,"hi":12.0},{"p":"c","s":"5","t":2009.7,"y":9.7,"lo":8.5,"hi":11.5},{"p":"c","s":"5","t":2009.9,"y":10.0,"lo":8.8,"hi":11.8},{"p":"c","s":"5","t":2010.1,"y":10.2,"lo":9.0,"hi":12.0},{"p":"c","s":"5","t":2010.35,"y":10.3,"lo":9.5,"hi":12.2},{"p":"c","s":"5","t":2010.5,"y":12.2,"lo":11.0,"hi":13.5},{"p":"c","s":"5","t":2010.65,"y":12.6,"lo":11.0,"hi":13.8},{"p":"c","s":"5","t":2010.85,"y":12.3,"lo":10.5,"hi":13.8},{"p":"c","s":"5","t":2011.0,"y":11.8,"lo":9.8,"hi":13.6},{"p":"c","s":"5","t":2011.25,"y":11.4,"lo":9.5,"hi":13.2},{"p":"c","s":"5","t":2011.5,"y":11.2,"lo":8.8,"hi":13.0},{"p":"c","s":"5","t":2011.6,"y":11.3,"lo":9.0,"hi":13.2},{"p":"c","s":"5","t":2011.7,"y":12.0,"lo":10.5,"hi":13.8},{"p":"c","s":"5","t":2011.85,"y":12.4,"lo":11.5,"hi":14.2},{"p":"c","s":"5","t":2012.0,"y":13.0,"lo":12.0,"hi":14.5},{"p":"c","s":"5","t":2012.3,"y":13.4,"lo":12.2,"hi":14.8},{"p":"c","s":"5","t":2012.6,"y":13.5,"lo":12.3,"hi":14.9},{"p":"c","s":"5","t":2012.8,"y":13.3,"lo":12.4,"hi":14.6},{"p":"c","s":"5","t":2013.0,"y":13.5,"lo":12.4,"hi":14.6},{"p":"c","s":"5","t":2013.3,"y":13.8,"lo":12.8,"hi":15.0},{"p":"c","s":"5","t":2013.6,"y":14.1,"lo":13.2,"hi":15.2},{"p":"c","s":"5","t":2014.0,"y":14.5,"lo":13.6,"hi":15.4},{"p":"c","s":"5","t":2014.3,"y":14.7,"lo":13.8,"hi":15.6},{"p":"c","s":"5","t":2014.6,"y":15.0,"lo":14.1,"hi":15.9},{"p":"c","s":"5","t":2015.0,"y":15.5,"lo":14.5,"hi":16.3},{"p":"c","s":"5","t":2015.3,"y":15.7,"lo":14.7,"hi":16.5},{"p":"c","s":"5","t":2015.55,"y":15.8,"lo":14.7,"hi":16.7},{"p":"c","s":"5","t":2015.7,"y":15.0,"lo":14.0,"hi":17.0},{"p":"c","s":"5","t":2015.85,"y":15.7,"lo":14.6,"hi":17.5},{"p":"c","s":"5","t":2016.0,"y":15.6,"lo":14.5,"hi":17.8},{"p":"c","s":"5","t":2016.05,"y":15.2,"lo":14.3,"hi":17.5},{"p":"c","s":"5","t":2016.3,"y":15.9,"lo":14.8,"hi":18.2},{"p":"c","s":"5","t":2016.6,"y":16.3,"lo":15.2,"hi":18.6},{"p":"c","s":"5","t":2017.0,"y":16.8,"lo":15.6,"hi":18.7},{"p":"c","s":"5","t":2017.3,"y":17.2,"lo":16.0,"hi":18.6},{"p":"c","s":"5","t":2017.6,"y":17.5,"lo":16.5,"hi":18.5},{"p":"c","s":"5","t":2018.0,"y":18.1,"lo":17.2,"hi":18.8}
],
"B": [
{"p":"3","k":"5yrs","lo":3.402,"q1":3.415,"md":3.45,"mn":3.46,"q3":3.513,"hi":3.525},
{"p":"3","k":"10yrs","lo":3.454,"q1":3.477,"md":3.571,"mn":3.552,"q3":3.59,"hi":3.669},
{"p":"3","k":"15yrs","lo":3.614,"q1":3.68,"md":3.834,"mn":3.76,"q3":3.836,"hi":3.843},
{"p":"3","k":"20yrs","lo":4.427,"q1":4.444,"md":4.465,"mn":4.471,"q3":4.494,"hi":4.502},
{"p":"11","k":"5yrs","lo":10.29,"q1":10.33,"md":10.44,"mn":10.57,"q3":10.79,"hi":11.02},
{"p":"11","k":"10yrs","lo":11.41,"q1":11.83,"md":11.96,"mn":11.87,"q3":12.07,"hi":12.13},
{"p":"11","k":"15yrs","lo":12.53,"q1":12.84,"md":13.13,"mn":13.27,"q3":13.89,"hi":14.02},
{"p":"11","k":"20yrs","lo":15.69,"q1":15.79,"md":15.82,"mn":15.935,"q3":15.85,"hi":16.59},
{"p":"21","k":"5yrs","lo":17.54,"q1":17.85,"md":17.92,"mn":18.04,"q3":18.16,"hi":18.87},
{"p":"21","k":"10yrs","lo":19.85,"q1":19.92,"md":20.15,"mn":20.44,"q3":20.79,"hi":21.47},
{"p":"21","k":"15yrs","lo":23.23,"q1":23.87,"md":24.35,"mn":24.28,"q3":24.94,"hi":25.08},
{"p":"21","k":"20yrs","lo":26.16,"q1":26.27,"md":26.34,"mn":26.45,"q3":26.61,"hi":26.95}
]
},
"spacing": -16,
"resolve": {"scale": {"stroke": "independent", "fill": "independent"}, "legend": {"stroke": "independent"}},
"hconcat": [
{
 "spacing": 22,
 "resolve": {"scale": {"stroke": "independent", "fill": "independent"}, "legend": {"stroke": "independent"}},
 "vconcat": [
 {
  "width": 600, "height": 502,
  "data": {"name": "L"},
  "transform": [{"filter": "datum.p == 'a'"}],
  "title": {"text": "(a) Expert sortino ensemble with 3-action", "orient": "bottom", "anchor": "middle", "frame": "group", "dx": -40, "offset": 10},
  "encoding": {"x": {"field": "t", "type": "quantitative", "scale": {"domain": [2007.78, 2018.02], "nice": false, "zero": false}, "axis": {"values": [2008, 2010, 2012, 2014, 2016, 2018], "format": "d", "title": "Year", "titleFontWeight": "bold", "titlePadding": 0}}},
  "layer": [
   {"mark": {"type": "area", "opacity": 0.3}, "encoding": {"y": {"field": "lo", "type": "quantitative", "title": "Cumulative Profit", "scale": {"domain": [0.73, 4.69], "nice": false, "zero": false}, "axis": {"values": [1.0, 1.5, 2.0, 2.5, 3.0, 3.5, 4.0, 4.5], "format": ".1f", "titleX": -44}}, "y2": {"field": "hi"}, "fill": {"field": "s", "type": "nominal", "scale": {"domain": ["5", "10", "15", "20"], "range": ["#008000", "#bfbf00", "#0000ff", "#ff0000"]}, "legend": null}}},
   {"mark": {"type": "line", "strokeWidth": 2}, "encoding": {"y": {"field": "y", "type": "quantitative", "title": "Cumulative Profit"}, "stroke": {"field": "s", "type": "nominal", "scale": {"domain": ["20", "15", "10", "5"], "range": ["#ff0000", "#0000ff", "#bfbf00", "#008000"]}, "legend": {"title": null, "labelExpr": "datum.label + '-years training dataset'"}}}}
  ]
 },
 {
  "width": 601, "height": 501,
  "data": {"name": "L"},
  "transform": [{"filter": "datum.p == 'c'"}],
  "title": {"text": "(c) Expert sortino ensemble with 21-action", "orient": "bottom", "anchor": "middle", "frame": "group", "dx": -34, "offset": 4},
  "encoding": {"x": {"field": "t", "type": "quantitative", "scale": {"domain": [2007.78, 2018.02], "nice": false, "zero": false}, "axis": {"values": [2008, 2010, 2012, 2014, 2016, 2018], "format": "d", "title": "Year", "titleFontWeight": "bold", "titlePadding": 0}}},
  "layer": [
   {"mark": {"type": "area", "opacity": 0.3}, "encoding": {"y": {"field": "lo", "type": "quantitative", "title": "Cumulative Profit", "scale": {"domain": [-1.75, 28.3], "nice": false, "zero": false}, "axis": {"values": [0, 5, 10, 15, 20, 25], "format": "d", "titleX": -39}}, "y2": {"field": "hi"}, "fill": {"field": "s", "type": "nominal", "scale": {"domain": ["5", "10", "15", "20"], "range": ["#008000", "#bfbf00", "#0000ff", "#ff0000"]}, "legend": null}}},
   {"mark": {"type": "line", "strokeWidth": 2}, "encoding": {"y": {"field": "y", "type": "quantitative", "title": "Cumulative Profit"}, "stroke": {"field": "s", "type": "nominal", "scale": {"domain": ["20", "15", "10", "5"], "range": ["#ff0000", "#0000ff", "#bfbf00", "#008000"]}, "legend": {"title": null, "labelExpr": "datum.label + '-years training dataset'"}}}}
  ]
 }
 ]
},
{
 "spacing": 18,
 "resolve": {"scale": {"stroke": "independent", "fill": "independent"}, "legend": {"stroke": "independent"}},
 "vconcat": [
 {
  "width": 593, "height": 502,
  "data": {"name": "L"},
  "transform": [{"filter": "datum.p == 'b'"}],
  "title": {"text": "(b) Expert sortino ensemble with 11-action", "orient": "bottom", "anchor": "middle", "frame": "group", "dx": -16, "offset": 10},
  "encoding": {"x": {"field": "t", "type": "quantitative", "scale": {"domain": [2007.8, 2018.02], "nice": false, "zero": false}, "axis": {"values": [2008, 2010, 2012, 2014, 2016, 2018], "format": "d", "title": "Year", "titleFontWeight": "bold", "titlePadding": 0}}},
  "layer": [
   {"mark": {"type": "area", "opacity": 0.3}, "encoding": {"y": {"field": "lo", "type": "quantitative", "title": null, "scale": {"domain": [-0.03, 17.45], "nice": false, "zero": false}, "axis": {"values": [0, 2, 4, 6, 8, 10, 12, 14, 16], "format": "d"}}, "y2": {"field": "hi"}, "fill": {"field": "s", "type": "nominal", "scale": {"domain": ["5", "10", "15", "20"], "range": ["#008000", "#bfbf00", "#0000ff", "#ff0000"]}, "legend": null}}},
   {"mark": {"type": "line", "strokeWidth": 2}, "encoding": {"y": {"field": "y", "type": "quantitative", "title": null}, "stroke": {"field": "s", "type": "nominal", "scale": {"domain": ["20", "15", "10", "5"], "range": ["#ff0000", "#0000ff", "#bfbf00", "#008000"]}, "legend": {"title": null, "labelExpr": "datum.label + '-years training dataset'"}}}}
  ]
 },
 {
  "spacing": 34,
  "bounds": "flush",
  "title": {"text": "Period of training dataset", "subtitle": "(d) Boxplot of cumulative profit", "orient": "bottom", "anchor": "middle", "frame": "group", "font": "DejaVu Sans", "fontSize": 22, "fontWeight": "normal", "subtitleFont": "Liberation Serif", "subtitleFontSize": 25, "subtitleColor": "#111111", "subtitlePadding": 8, "offset": 12, "dx": 291},
  "hconcat": [
  {
   "width": 182, "height": 439,
   "data": {"name": "B"},
   "transform": [{"filter": "datum.p == '3'"}],
   "title": {"text": "3-Action", "font": "DejaVu Sans", "fontSize": 21, "offset": 0, "orient": "top", "anchor": "middle", "frame": "group"},
   "encoding": {"x": {"field": "k", "type": "nominal", "sort": ["5yrs", "10yrs", "15yrs", "20yrs"], "scale": {"paddingInner": 0, "paddingOuter": 0}, "axis": {"title": null, "labelAngle": -45, "labelAlign": "right", "labelBaseline": "top", "labelFontSize": 16, "labelPadding": 1}}},
   "layer": [
    {"mark": {"type": "rule", "color": "#3a8fd6", "strokeWidth": 1.5}, "encoding": {"y": {"field": "lo", "type": "quantitative", "title": "Cumulative Profit", "scale": {"domain": [3.346, 4.559], "nice": false, "zero": false}, "axis": {"values": [3.4, 3.6, 3.8, 4.0, 4.2, 4.4], "format": ".1f", "titleFontSize": 21, "labelFontSize": 16, "titlePadding": 8}}, "y2": {"field": "hi"}}},
    {"mark": {"type": "bar", "size": 23, "color": "#1f77b4", "stroke": "#4a9fe6", "strokeWidth": 1}, "encoding": {"y": {"field": "q1", "type": "quantitative", "title": "Cumulative Profit"}, "y2": {"field": "q3"}}},
    {"mark": {"type": "tick", "color": "black", "size": 15, "thickness": 3.5}, "encoding": {"y": {"field": "lo", "type": "quantitative", "title": "Cumulative Profit"}}},
    {"mark": {"type": "tick", "color": "black", "size": 15, "thickness": 3.5}, "encoding": {"y": {"field": "hi", "type": "quantitative", "title": "Cumulative Profit"}}},
    {"mark": {"type": "tick", "color": "#2ca02c", "size": 23, "thickness": 2.5}, "encoding": {"y": {"field": "md", "type": "quantitative", "title": "Cumulative Profit"}}},
    {"mark": {"type": "tick", "color": "#e41a1c", "size": 23, "thickness": 2.5}, "encoding": {"y": {"field": "mn", "type": "quantitative", "title": "Cumulative Profit"}}}
   ]
  },
  {
   "width": 182, "height": 439,
   "data": {"name": "B"},
   "transform": [{"filter": "datum.p == '11'"}],
   "title": {"text": "11-Action", "font": "DejaVu Sans", "fontSize": 21, "offset": 0, "orient": "top", "anchor": "middle", "frame": "group"},
   "encoding": {"x": {"field": "k", "type": "nominal", "sort": ["5yrs", "10yrs", "15yrs", "20yrs"], "scale": {"paddingInner": 0, "paddingOuter": 0}, "axis": {"title": null, "labelAngle": -45, "labelAlign": "right", "labelBaseline": "top", "labelFontSize": 16, "labelPadding": 1}}},
   "layer": [
    {"mark": {"type": "rule", "color": "#3a8fd6", "strokeWidth": 1.5}, "encoding": {"y": {"field": "lo", "type": "quantitative", "title": null, "scale": {"domain": [9.97, 16.91], "nice": false, "zero": false}, "axis": {"values": [10, 11, 12, 13, 14, 15, 16], "format": "d", "labelFontSize": 16}}, "y2": {"field": "hi"}}},
    {"mark": {"type": "bar", "size": 23, "color": "#1f77b4", "stroke": "#4a9fe6", "strokeWidth": 1}, "encoding": {"y": {"field": "q1", "type": "quantitative", "title": null}, "y2": {"field": "q3"}}},
    {"mark": {"type": "tick", "color": "black", "size": 15, "thickness": 3.5}, "encoding": {"y": {"field": "lo", "type": "quantitative", "title": null}}},
    {"mark": {"type": "tick", "color": "black", "size": 15, "thickness": 3.5}, "encoding": {"y": {"field": "hi", "type": "quantitative", "title": null}}},
    {"mark": {"type": "tick", "color": "#2ca02c", "size": 23, "thickness": 2.5}, "encoding": {"y": {"field": "md", "type": "quantitative", "title": null}}},
    {"mark": {"type": "tick", "color": "#e41a1c", "size": 23, "thickness": 2.5}, "encoding": {"y": {"field": "mn", "type": "quantitative", "title": null}}}
   ]
  },
  {
   "width": 182, "height": 439,
   "data": {"name": "B"},
   "transform": [{"filter": "datum.p == '21'"}],
   "title": {"text": "21-Action", "font": "DejaVu Sans", "fontSize": 21, "offset": 0, "orient": "top", "anchor": "middle", "frame": "group"},
   "encoding": {"x": {"field": "k", "type": "nominal", "sort": ["5yrs", "10yrs", "15yrs", "20yrs"], "scale": {"paddingInner": 0, "paddingOuter": 0}, "axis": {"title": null, "labelAngle": -45, "labelAlign": "right", "labelBaseline": "top", "labelFontSize": 16, "labelPadding": 1}}},
   "layer": [
    {"mark": {"type": "rule", "color": "#3a8fd6", "strokeWidth": 1.5}, "encoding": {"y": {"field": "lo", "type": "quantitative", "title": null, "scale": {"domain": [17.04, 27.42], "nice": false, "zero": false}, "axis": {"values": [18, 20, 22, 24, 26], "format": "d", "labelFontSize": 16}}, "y2": {"field": "hi"}}},
    {"mark": {"type": "bar", "size": 23, "color": "#1f77b4", "stroke": "#4a9fe6", "strokeWidth": 1}, "encoding": {"y": {"field": "q1", "type": "quantitative", "title": null}, "y2": {"field": "q3"}}},
    {"mark": {"type": "tick", "color": "black", "size": 15, "thickness": 3.5}, "encoding": {"y": {"field": "lo", "type": "quantitative", "title": null}}},
    {"mark": {"type": "tick", "color": "black", "size": 15, "thickness": 3.5}, "encoding": {"y": {"field": "hi", "type": "quantitative", "title": null}}},
    {"mark": {"type": "tick", "color": "#2ca02c", "size": 23, "thickness": 2.5}, "encoding": {"y": {"field": "md", "type": "quantitative", "title": null}}},
    {"mark": {"type": "tick", "color": "#e41a1c", "size": 23, "thickness": 2.5}, "encoding": {"y": {"field": "mn", "type": "quantitative", "title": null}}}
   ]
  }
  ]
 }
 ]
}
]
}
